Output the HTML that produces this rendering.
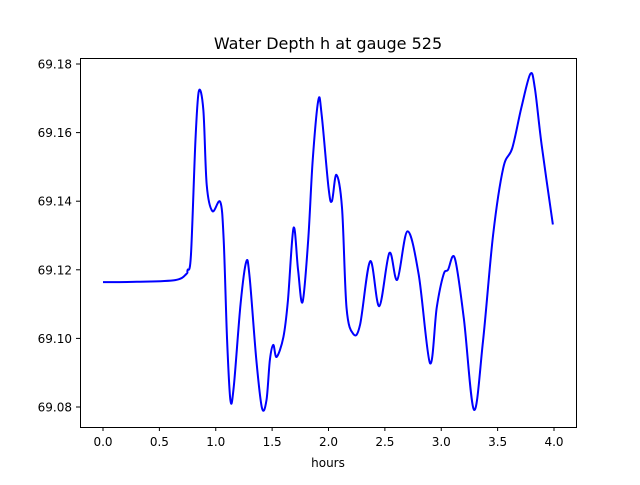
<!DOCTYPE html>
<html><head><meta charset="utf-8"><style>
body{margin:0;background:#fff;font-family:"Liberation Sans","DejaVu Sans",sans-serif}
svg text{font-family:"DejaVu Sans","Liberation Sans",sans-serif}
</style></head><body>
<svg id="chart" width="640" height="480" xmlns="http://www.w3.org/2000/svg">
<rect width="640" height="480" fill="#fff"/>
<text x="328" y="49" font-size="16" text-anchor="middle">Water Depth h at gauge 525</text>
<g id="ticks"></g>
<path id="line" fill="none" stroke="#0000ff" stroke-width="2"/>
<rect x="80.5" y="58.5" width="496" height="369" fill="none" stroke="#000" stroke-width="1"/>
<text x="328" y="467" font-size="12" text-anchor="middle">hours</text>
</svg>
<script>
const hours=[0,0.3,0.64,0.74,0.75,0.78,0.82,0.85,0.89,0.92,0.97,1.04,1.07,1.10,1.13,1.16,1.22,1.27,1.30,1.36,1.41,1.45,1.48,1.51,1.54,1.60,1.64,1.69,1.73,1.77,1.82,1.86,1.91,1.94,2.00,2.03,2.07,2.12,2.16,2.22,2.28,2.37,2.45,2.54,2.61,2.70,2.80,2.90,2.96,3.02,3.06,3.12,3.20,3.29,3.37,3.46,3.55,3.63,3.71,3.79,3.83,3.89,3.99];
const depth=[69.1164,69.1165,69.1170,69.1188,69.1199,69.1243,69.1578,69.1721,69.1666,69.1447,69.1371,69.1398,69.1290,69.1000,69.0820,69.0860,69.1100,69.1223,69.1180,69.0937,69.0797,69.0820,69.0937,69.0981,69.0946,69.1004,69.1110,69.1322,69.1200,69.1106,69.1287,69.1520,69.1695,69.1650,69.1440,69.1400,69.1477,69.1380,69.1089,69.1013,69.1040,69.1225,69.1094,69.1249,69.1171,69.1312,69.1186,69.0928,69.1090,69.1186,69.1200,69.1234,69.1059,69.0792,69.0991,69.1302,69.1497,69.1555,69.1672,69.1771,69.1730,69.1565,69.1332];
const xTicks=[0,0.5,1.0,1.5,2.0,2.5,3.0,3.5,4.0];
const xTickLabels=["0.0","0.5","1.0","1.5","2.0","2.5","3.0","3.5","4.0"];
const yTicks=[69.08,69.10,69.12,69.14,69.16,69.18];
const yTickLabels=["69.08","69.10","69.12","69.14","69.16","69.18"];
const NS="http://www.w3.org/2000/svg";
function xs(v){return 103+v*112.75;}
function ys(v){return 64+(69.18-v)*3430;}
const g=document.getElementById('ticks');
xTicks.forEach((t,i)=>{
 const x=xs(t);
 const l=document.createElementNS(NS,'line');
 
 
 l.setAttribute('x1',x);l.setAttribute('x2',x);l.setAttribute('y1',427);l.setAttribute('y2',431);l.setAttribute('stroke','#000');
 g.appendChild(l);
 const tx=document.createElementNS(NS,'text');
 
 
 tx.setAttribute('x',x);tx.setAttribute('y',446);tx.setAttribute('font-size','12');tx.setAttribute('text-anchor','middle');
 tx.textContent=xTickLabels[i];g.appendChild(tx);
});
yTicks.forEach((t,i)=>{
 const y=ys(t);
 const l=document.createElementNS(NS,'line');
 
 
 l.setAttribute('x1',76);l.setAttribute('x2',80);l.setAttribute('y1',y);l.setAttribute('y2',y);l.setAttribute('stroke','#000');
 g.appendChild(l);
 const tx=document.createElementNS(NS,'text');
 
 
 tx.setAttribute('x',72);tx.setAttribute('y',y+4.5);tx.setAttribute('font-size','12');tx.setAttribute('text-anchor','end');
 tx.textContent=yTickLabels[i];g.appendChild(tx);
});
const P=hours.map((h,i)=>[xs(h),ys(depth[i])]);
let d='M'+P[0][0]+','+P[0][1];
for(let i=0;i<P.length-1;i++){
 const p0=P[Math.max(0,i-1)],p1=P[i],p2=P[i+1],p3=P[Math.min(P.length-1,i+2)];
 const c1=[p1[0]+(p2[0]-p0[0])/6,p1[1]+(p2[1]-p0[1])/6];
 const c2=[p2[0]-(p3[0]-p1[0])/6,p2[1]-(p3[1]-p1[1])/6];
 d+=' C'+c1[0]+','+c1[1]+' '+c2[0]+','+c2[1]+' '+p2[0]+','+p2[1];
}
document.getElementById('line').setAttribute('d',d);
</script>
</body></html>
